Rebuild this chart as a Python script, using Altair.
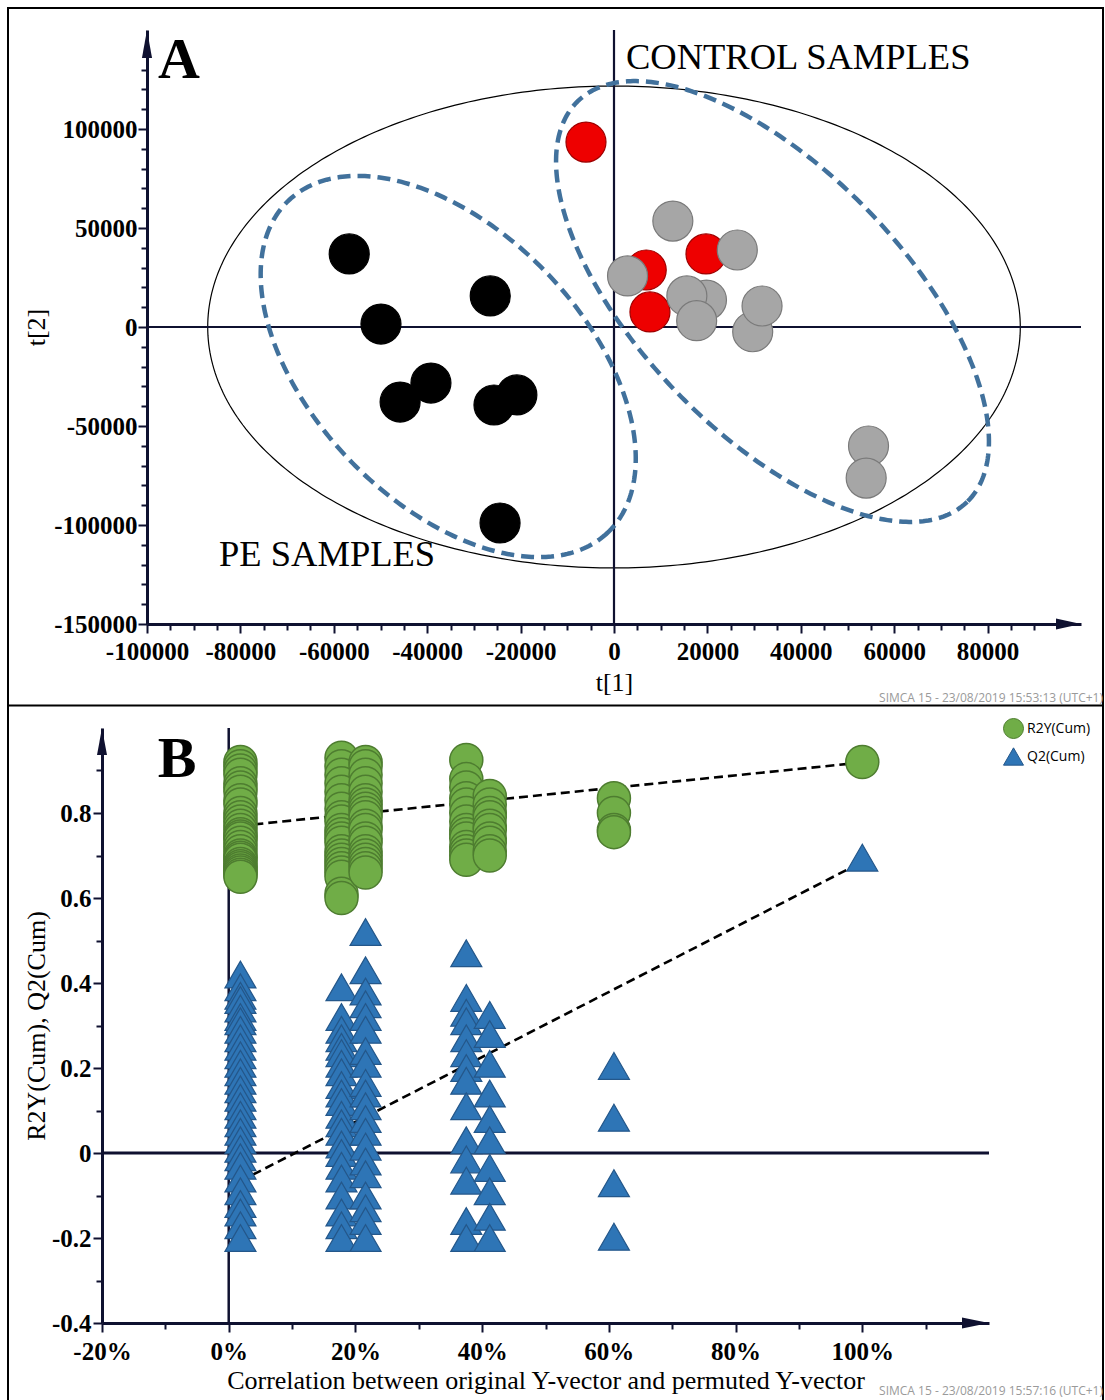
import altair as alt
import numpy as np
import pandas as pd

# ================= Panel A : PCA score plot (t[1] vs t[2]) =================
pe_t1 = [-56700, -49900, -26500, -39200, -45800, -20800, -25700, -24400]
pe_t2 = [36900, 1500, 15700, -28300, -37900, -34300, -39400, -99000]
red_t1 = [-6000, 6900, 19700, 7700]
red_t2 = [93400, 28800, 36900, 7600]
grey_t1 = [12600, 26400, 2900, 19800, 15600, 17700, 29700, 31700, 54500, 54000]
grey_t2 = [53500, 38900, 25800, 13600, 15700, 3200, -2400, 10600, -60100, -76300]

hotelling_radius = [87000, 121700]                              # t1, t2 semi-axes
pe_ring = [-35500, -19950, 34200, -21050, -83790, -47420]       # cx, cy, ax, bx, ay, by
control_ring = [33940, 12880, 41690, -20250, -101160, -46460]

A_text = ["CONTROL SAMPLES", "PE SAMPLES"]
A_text_t1 = [2570, -84570]
A_text_t2 = [130300, -120700]

A_x_ticks = list(range(-100000, 95000, 5000))
A_x_labels = list(range(-100000, 100000, 20000))
A_y_ticks = list(range(-150000, 140000, 10000))
A_y_labels = list(range(-150000, 150000, 50000))

# ================= Panel B : permutation test =================
perm_corr = [1.85, 17.8, 21.6, 37.5, 41.2, 60.8]
r2y_perm = [
    [0.92, 0.91, 0.90, 0.89, 0.87, 0.86, 0.85, 0.83, 0.82, 0.80, 0.79, 0.78, 0.77, 0.76, 0.75,
     0.745, 0.74, 0.73, 0.72, 0.71, 0.70, 0.695, 0.69, 0.68, 0.675, 0.67, 0.665, 0.66, 0.655, 0.65],
    [0.93, 0.91, 0.89, 0.87, 0.85, 0.83, 0.81, 0.79, 0.78, 0.76, 0.75, 0.74, 0.73, 0.71, 0.70,
     0.69, 0.68, 0.67, 0.66, 0.65, 0.61, 0.60],
    [0.92, 0.91, 0.89, 0.87, 0.85, 0.83, 0.82, 0.81, 0.80, 0.79, 0.77, 0.76, 0.74, 0.73, 0.71,
     0.70, 0.69, 0.68, 0.67, 0.66],
    [0.925, 0.88, 0.86, 0.835, 0.82, 0.80, 0.78, 0.76, 0.75, 0.74, 0.72, 0.71, 0.70, 0.69],
    [0.84, 0.82, 0.80, 0.79, 0.77, 0.76, 0.74, 0.73, 0.71, 0.70],
    [0.835, 0.80, 0.76, 0.755],
]
q2_perm = [
    [0.42, 0.39, 0.37, 0.36, 0.34, 0.32, 0.31, 0.29, 0.27, 0.25, 0.23, 0.21, 0.19, 0.17, 0.15,
     0.13, 0.11, 0.09, 0.07, 0.05, 0.03, 0.01, -0.01, -0.03, -0.06, -0.09, -0.12, -0.14, -0.17, -0.20],
    [0.39, 0.32, 0.29, 0.27, 0.25, 0.235, 0.21, 0.19, 0.16, 0.14, 0.12, 0.09, 0.07, 0.05, 0.02,
     0.0, -0.03, -0.06, -0.10, -0.14, -0.17, -0.20],
    [0.52, 0.43, 0.38, 0.35, 0.32, 0.29, 0.24, 0.21, 0.165, 0.14, 0.11, 0.08, 0.05, 0.015, -0.02,
     -0.05, -0.10, -0.13, -0.16, -0.20],
    [0.47, 0.365, 0.33, 0.31, 0.27, 0.235, 0.20, 0.17, 0.11, 0.03, -0.015, -0.065, -0.16, -0.20],
    [0.325, 0.28, 0.21, 0.14, 0.08, 0.03, -0.035, -0.09, -0.15, -0.20],
    [0.205, 0.083, -0.071, -0.197],
]
orig_corr, orig_r2y, orig_q2 = 100, 0.92, 0.695
fit_corr = [1.85, 100]
fit_r2y = [0.770, 0.919]
fit_q2 = [-0.066, 0.685]
series_names = ["R2Y(Cum)", "Q2(Cum)"]

B_x_ticks = list(range(-20, 120, 10))
B_x_labels = list(range(-20, 120, 20))
B_y_ticks = [round(v / 10, 1) for v in range(-4, 10)]
B_y_labels = [-0.4, -0.2, 0, 0.2, 0.4, 0.6, 0.8]

# ================= styling =================
W, H = 1105, 1400
AXC = "#0f1130"
SERIF = "Liberation Serif"
MINUS = "\u2212"

xA = alt.Scale(domain=[-100000, 100000], range=[147, 1081], nice=False, zero=False)
yA = alt.Scale(domain=[-150000, 150000], range=[624, 30], nice=False, zero=False)
xB = alt.Scale(domain=[-20, 120], range=[102, 989], nice=False, zero=False)
yB = alt.Scale(domain=[-0.4, 1.0], range=[1323, 728], nice=False, zero=False)


def in_list(labels):
    return "indexof([%s], datum.value) >= 0" % ",".join(str(v) for v in labels)


def axis(labels, **kw):
    base = dict(grid=False, domainColor=AXC, domainWidth=3, tickColor=AXC, tickWidth=2,
                tickSize={"condition": {"test": in_list(labels), "value": 9}, "value": 6},
                labelFont=SERIF, labelFontWeight="bold", labelFontSize=25,
                labelColor="black", labelOverlap=False, labelFlush=False,
                titleFont=SERIF, titleFontWeight="normal", titleFontSize=26,
                titleColor="black")
    base.update(kw)
    return alt.Axis(**base)


def lab_expr(labels, fmt, suffix=""):
    return ("%s ? (datum.value == 0 ? '0' : "
            "replace(format(datum.value, '%s'), '%s', '-')) + '%s' : ''") % (
        in_list(labels), fmt, MINUS, suffix)


axA_x = axis(A_x_labels, orient="bottom", offset=624 - H, values=A_x_ticks,
             labelExpr=lab_expr(A_x_labels, "d"), labelPadding=6,
             title="t[1]", titleY=66, titleBaseline="alphabetic")
axA_y = axis(A_y_labels, orient="left", offset=-147, values=A_y_ticks,
             labelExpr=lab_expr(A_y_labels, "d"), labelPadding=1,
             title="t[2]", titleX=-103, titleBaseline="alphabetic", titleAngle=270)
axB_x = axis(B_x_labels, orient="bottom", offset=1323 - H, values=B_x_ticks,
             labelExpr=lab_expr(B_x_labels, "d", "%"), labelPadding=7,
             title="Correlation between original Y-vector and permuted Y-vector",
             titleY=65, titleBaseline="alphabetic")
axB_y = axis(B_y_labels, orient="left", offset=-102, values=B_y_ticks,
             labelExpr=lab_expr(B_y_labels, ".1f"), labelPadding=2,
             title="R2Y(Cum), Q2(Cum)", titleX=-58, titleBaseline="alphabetic", titleAngle=270)

theta = np.linspace(0, 2 * np.pi, 361)


def ring_df(cx, cy, ax, bx, ay, by):
    return pd.DataFrame({"t1": cx + ax * np.cos(theta) + bx * np.sin(theta),
                         "t2": cy + ay * np.cos(theta) + by * np.sin(theta),
                         "i": np.arange(len(theta))})


def XA(f="t1"):
    return alt.X(f + ":Q", scale=xA, axis=axA_x)


def YA(f="t2"):
    return alt.Y(f + ":Q", scale=yA, axis=axA_y)


# ---------- Panel A layers ----------
hot = alt.Chart(ring_df(0, 0, hotelling_radius[0], 0, 0, hotelling_radius[1])).mark_line(
    color="black", strokeWidth=1.2).encode(x=XA(), y=YA(), order="i:Q")

zeroA_h = alt.Chart(pd.DataFrame({"t1": [-100000], "b": [100000], "t2": [0]})).mark_rule(
    color=AXC, strokeWidth=2.2).encode(x=XA(), x2="b:Q", y=YA())
zeroA_v = alt.Chart(pd.DataFrame({"t1": [0], "t2": [-150000], "b": [150000]})).mark_rule(
    color=AXC, strokeWidth=2.2).encode(x=XA(), y=YA(), y2="b:Q")

rings = [
    alt.Chart(ring_df(*r)).mark_line(color="#41719C", strokeWidth=4.5, strokeDash=[13, 7]).encode(
        x=XA(), y=YA(), order="i:Q")
    for r in (pe_ring, control_ring)
]

arrA_x = alt.Chart(pd.DataFrame({"t1": [100000], "t2": [-150000]})).mark_point(
    shape="M0,0L-2,-0.44L-2,0.44Z", filled=True, fill=AXC, size=625, opacity=1,
    strokeOpacity=0).encode(x=XA(), y=YA())
arrA_y = alt.Chart(pd.DataFrame({"t1": [-100000], "t2": [150000]})).mark_point(
    shape="M0,0L-0.36,2L0.36,2Z", filled=True, fill=AXC, size=784, opacity=1,
    strokeOpacity=0).encode(x=XA(), y=YA())


def pts(t1, t2, fill, stroke):
    return alt.Chart(pd.DataFrame({"t1": t1, "t2": t2})).mark_point(
        shape="circle", filled=True, fill=fill, stroke=stroke, strokeWidth=1.2, size=1600,
        opacity=1).encode(x=XA(), y=YA())


pe_pts = pts(pe_t1, pe_t2, "#000000", "#000000")
red_pts = pts(red_t1, red_t2, "#EE0000", "#9E0000")
grey_pts = pts(grey_t1, grey_t2, "#A6A6A6", "#7A7A7A")

txtA = alt.Chart(pd.DataFrame({"t1": A_text_t1, "t2": A_text_t2, "s": A_text})).mark_text(
    font=SERIF, fontSize=36.5, align="left", baseline="alphabetic", color="black").encode(
    x=XA(), y=YA(), text="s:N")
letterA = alt.Chart(pd.DataFrame({"t1": [-97630], "t2": [125750], "s": ["A"]})).mark_text(
    font=SERIF, fontSize=58, fontWeight="bold", align="left", baseline="alphabetic",
    color="black").encode(x=XA(), y=YA(), text="s:N")

panelA = alt.layer(hot, zeroA_h, zeroA_v, *rings, arrA_x, arrA_y, pe_pts, red_pts, grey_pts,
                   txtA, letterA)


# ---------- Panel B layers ----------
def XB(f="c"):
    return alt.X(f + ":Q", scale=xB, axis=axB_x)


def YB(f="v"):
    return alt.Y(f + ":Q", scale=yB, axis=axB_y)


rows_r2, rows_q2 = [], []
for c, vals in zip(perm_corr, r2y_perm):
    rows_r2 += [{"c": c, "v": v, "s": series_names[0]} for v in vals]
for c, vals in zip(perm_corr, q2_perm):
    rows_q2 += [{"c": c, "v": v, "s": series_names[1]} for v in vals]
rows_r2.append({"c": orig_corr, "v": orig_r2y, "s": series_names[0]})
rows_q2.append({"c": orig_corr, "v": orig_q2, "s": series_names[1]})

zeroB_h = alt.Chart(pd.DataFrame({"c": [-20], "b": [120], "v": [0]})).mark_rule(
    color=AXC, strokeWidth=3).encode(x=XB(), x2="b:Q", y=YB())
zeroB_v = alt.Chart(pd.DataFrame({"c": [0], "v": [-0.4], "b": [1.0]})).mark_rule(
    color=AXC, strokeWidth=2.5).encode(x=XB(), y=YB(), y2="b:Q")

fit = pd.DataFrame({"c": fit_corr * 2, "v": fit_r2y + fit_q2,
                    "s": [series_names[0]] * 2 + [series_names[1]] * 2})
fit_lines = alt.Chart(fit).mark_line(color="black", strokeWidth=2.6, strokeDash=[9, 5]).encode(
    x=XB(), y=YB(), detail="s:N")

leg = alt.Legend(orient="none", legendX=1003, legendY=718, title=None, symbolSize=400,
                 labelFont="Open Sans", labelFontSize=14, labelColor="black", labelOffset=3,
                 rowPadding=4, padding=0, symbolStrokeWidth=1, symbolOpacity=1)
color_enc = alt.Color("s:N", scale=alt.Scale(domain=series_names, range=["#70AD47", "#2E75B6"]),
                      legend=leg)
shape_enc = alt.Shape("s:N", scale=alt.Scale(domain=series_names, range=["circle", "triangle-up"]),
                      legend=leg)
stroke_enc = alt.Stroke("s:N", scale=alt.Scale(domain=series_names, range=["#4E7D30", "#24578A"]),
                        legend=leg)

r2_pts = alt.Chart(pd.DataFrame(rows_r2)).mark_point(filled=True, size=1089, strokeWidth=1.5,
                                                     opacity=1).encode(
    x=XB(), y=YB(), color=color_enc, shape=shape_enc, stroke=stroke_enc)
q2_pts = alt.Chart(pd.DataFrame(rows_q2)).mark_point(filled=True, size=961, strokeWidth=1.2,
                                                     opacity=1).encode(
    x=XB(), y=YB(), color=color_enc, shape=shape_enc, stroke=stroke_enc)

arrB_x = alt.Chart(pd.DataFrame({"c": [120], "v": [-0.4]})).mark_point(
    shape="M0,0L-2,-0.41L-2,0.41Z", filled=True, fill=AXC, size=729, opacity=1,
    strokeOpacity=0).encode(x=XB(), y=YB())
arrB_y = alt.Chart(pd.DataFrame({"c": [-20], "v": [1.0]})).mark_point(
    shape="M0,0L-0.37,2L0.37,2Z", filled=True, fill=AXC, size=729, opacity=1,
    strokeOpacity=0).encode(x=XB(), y=YB())

letterB = alt.Chart(pd.DataFrame({"c": [-11.2], "v": [0.885], "s": ["B"]})).mark_text(
    font=SERIF, fontSize=58, fontWeight="bold", align="left", baseline="alphabetic",
    color="black").encode(x=XB(), y=YB(), text="s:N")

panelB = alt.layer(zeroB_h, zeroB_v, fit_lines, r2_pts, q2_pts, arrB_x, arrB_y, letterB)

# ---------- frame & watermarks ----------
one = pd.DataFrame({"k": [0]})
frame = alt.Chart(one).mark_rect(fillOpacity=0, stroke="black", strokeWidth=2).encode(
    x=alt.value(8), x2=alt.value(1103), y=alt.value(8), y2=alt.value(1410))
divider = alt.Chart(one).mark_rule(color="black", strokeWidth=2).encode(
    x=alt.value(8), x2=alt.value(1103), y=alt.value(705.5))
wm = pd.DataFrame({"s": ["SIMCA 15 - 23/08/2019 15:53:13 (UTC+1)",
                         "SIMCA 15 - 23/08/2019 15:57:16 (UTC+1)"]})
wm1 = alt.Chart(wm.iloc[[0]]).mark_text(font="Open Sans", fontSize=12, color="#9a9a9a",
                                        align="right", baseline="alphabetic").encode(
    x=alt.value(1103), y=alt.value(702), text="s:N")
wm2 = alt.Chart(wm.iloc[[1]]).mark_text(font="Open Sans", fontSize=12, color="#9a9a9a",
                                        align="right", baseline="alphabetic").encode(
    x=alt.value(1103), y=alt.value(1395), text="s:N")

chart = alt.layer(frame, divider, wm1, wm2, panelA, panelB).resolve_scale(
    x="independent", y="independent").properties(
    width=W, height=H, padding=0, autosize=alt.AutoSizeParams(type="none"),
    background="white").configure_view(stroke=None)

chart.save("out.html", embed_options={"renderer": "svg", "actions": False})
